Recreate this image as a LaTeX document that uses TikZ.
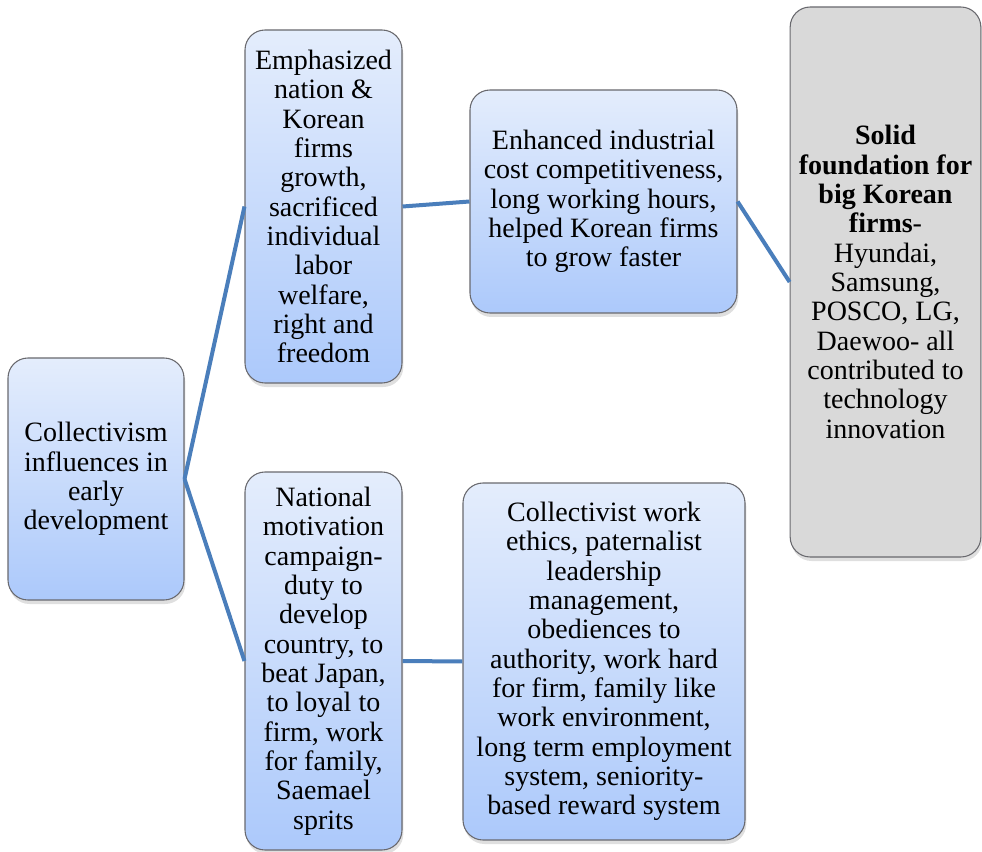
\documentclass[tikz,border=0pt]{standalone}
\usepackage{fontspec}
\setmainfont{Liberation Serif}
\usetikzlibrary{shadows}

\definecolor{boxtop}{RGB}{228,237,252}
\definecolor{boxbottom}{RGB}{172,201,251}
\definecolor{boxedge}{RGB}{105,105,110}
\definecolor{greyfill}{RGB}{217,217,217}
\definecolor{linkblue}{RGB}{74,126,187}

\begin{document}
\begin{tikzpicture}[x=0.75pt, y=-0.75pt,
		every node/.style={font=\fontsize{21}{22}\selectfont, align=center},
		box/.style={draw=boxedge, line width=0.8pt, rounded corners=15pt,
			top color=boxtop, bottom color=boxbottom, inner sep=2pt,
			drop shadow={opacity=0.25, shadow xshift=1pt, shadow yshift=-3pt}},
		greybox/.style={box, top color=greyfill, bottom color=greyfill},
		link/.style={draw=linkblue, line width=3pt}]

				\useasboundingbox (0,0) rectangle (982,852);

				% first column
				\node (root) [box, minimum width=132pt, minimum height=181.5pt] at (96,479)
					{Collectivism\\influences in\\early\\development};

				% second column
				\node (nation) [box, minimum width=117.75pt, minimum height=264.75pt] at (323.5,206.5)
					{Emphasized\\nation \&\\Korean\\firms\\growth,\\sacrificed\\individual\\labor\\welfare,\\right and\\freedom};
				\node (campaign) [box, minimum width=117.75pt, minimum height=283.5pt] at (323.5,661)
					{National\\motivation\\campaign-\\duty to\\develop\\country, to\\beat Japan,\\to loyal to\\firm, work\\for family,\\Saemael\\sprits};

				% third column
				\node (cost) [box, minimum width=200.25pt, minimum height=167.25pt] at (603.5,201.5)
					{Enhanced industrial\\cost competitiveness,\\long working hours,\\helped Korean firms\\to grow faster};
				\node (ethics) [box, minimum width=211.5pt, minimum height=267.75pt] at (604,661.5)
					{Collectivist work\\ethics, paternalist\\leadership\\management,\\obediences to\\authority, work hard\\for firm, family like\\work environment,\\long term employment\\system, seniority-\\based reward system};

				% result
				\node (found) [greybox, minimum width=143pt, minimum height=412.5pt] at (885.5,282)
					{\textbf{Solid}\\\textbf{foundation for}\\\textbf{big Korean}\\\textbf{firms}-\\Hyundai,\\Samsung,\\POSCO, LG,\\Daewoo- all\\contributed to\\technology\\innovation};

				\draw[link] (root.east) -- (nation.west);
				\draw[link] (root.east) -- (campaign.west);
				\draw[link] (nation.east) -- (cost.west);
				\draw[link] (campaign.east) -- (ethics.west);
				\draw[link] (cost.east) -- (found.west);
\end{tikzpicture}
\end{document}
